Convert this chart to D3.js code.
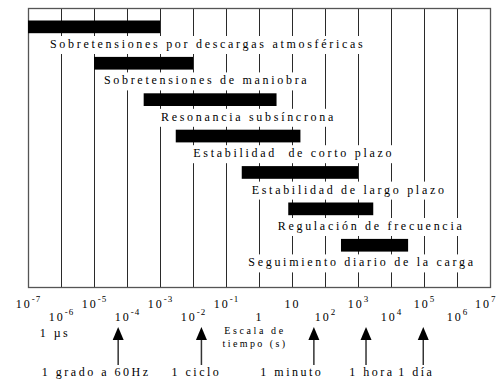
<!DOCTYPE html>
<html><head><meta charset="utf-8">
<script src="https://cdn.jsdelivr.net/npm/d3@7"></script>
<style>
body{margin:0;background:#fff}
svg{display:block;font-family:"Liberation Serif","Times New Roman",Times,serif}
svg text{font-family:"Liberation Serif","Times New Roman",Times,serif;fill:#000}
</style></head><body>
<svg id="c" width="497" height="379"></svg>
<script>
// ---- data ----
const categories = [
  "Sobretensiones por descargas atmosféricas",
  "Sobretensiones de maniobra",
  "Resonancia subsíncrona",
  "Estabilidad  de corto plazo",
  "Estabilidad de largo plazo",
  "Regulación de frecuencia",
  "Seguimiento diario de la carga"
];
const rangeStart = [1e-7, 1e-5, 3.2e-4, 3e-3, 0.3, 7.7, 305];   // s
const rangeEnd   = [1e-3, 1e-2, 3.4, 18, 1000, 2900, 33000];    // s
const tickValues = [1e-7,1e-6,1e-5,1e-4,1e-3,1e-2,1e-1,1,10,1e2,1e3,1e4,1e5,1e6,1e7];
const tickBase   = ["10","10","10","10","10","10","10","1","10","10","10","10","10","10","10"];
const tickExp    = ["-7","-6","-5","-4","-3","-2","-1","","","2","3","4","5","6","7"];
const markerTimes  = [5.4e-5, 0.018, 46, 1750, 95000];
const markerLabels = ["1 grado a 60Hz","1 ciclo","1 minuto","1 hora","1 día"];

// ---- layout (not data) ----
const labelStartExp = [-6.333, -4.70, -2.97, -1.99, -0.221, 0.567, -0.324];
const markerLabelDx = [-22, -5, -22, 6, -7];
const plot = {left:28, right:490, top:8, bottom:287};
const W = 497;

const svg = d3.select("#c");
const x = d3.scaleLog().domain([1e-7,1e7]).range([plot.left, plot.right]);
const y = d3.scaleBand().domain(categories).range([plot.top, plot.top + 7*36.4]);

// gridlines
const grid = svg.append("g").attr("transform",`translate(0,${plot.bottom})`)
  .call(d3.axisBottom(x).tickValues(tickValues).tickSize(-(plot.bottom-plot.top)).tickFormat(""));
grid.select(".domain").remove();
grid.selectAll("line").attr("stroke","#2a2a2a").attr("stroke-width",1);

// frame
svg.append("rect").attr("x",plot.left+0.5).attr("y",plot.top+0.5)
  .attr("width",plot.right-plot.left).attr("height",plot.bottom-plot.top)
  .attr("fill","none").attr("stroke","#555").attr("stroke-width",1.3);

// labels with white backgrounds
const lg = svg.append("g");
categories.forEach((c,i)=>{
  const g = lg.append("g");
  const t = g.append("text")
    .attr("x", x(Math.pow(10,labelStartExp[i])))
    .attr("y", y(c)+40)
    .attr("font-size",12)
    .attr("letter-spacing","2.7px")
    .style("white-space","pre")
    .attr("xml:space","preserve")
    .text(c);
  const bb = t.node().getBBox();
  g.insert("rect","text").attr("x",bb.x-2).attr("y",y(c)+40-12)
    .attr("width",bb.width+2).attr("height",18).attr("fill","#fff");
});

// bars
svg.append("g").selectAll("rect").data(categories).join("rect")
  .attr("x",(d,i)=>x(rangeStart[i]))
  .attr("width",(d,i)=>x(rangeEnd[i])-x(rangeStart[i]))
  .attr("y",d=>y(d)+12.5)
  .attr("height",12.7)
  .attr("fill","#000");

// tick labels
const ax = svg.append("g").attr("transform",`translate(0,${plot.bottom})`)
  .call(d3.axisBottom(x).tickValues(tickValues).tickSize(0).tickFormat(""));
ax.select(".domain").remove();
ax.attr("font-family",null).attr("font-size",null);
ax.selectAll(".tick text").each(function(d,i){
  const t = d3.select(this);
  const e = Math.round(Math.log10(d));
  const row = (e % 2 === 0) ? 1 : 0;
  t.attr("y", row ? 321-plot.bottom : 308-plot.bottom).attr("dy",null)
   .attr("font-size",12).attr("letter-spacing","2px")
   .attr("text-anchor","middle");
  t.text(null);
  t.append("tspan").text(tickBase[i]);
  if (tickExp[i]) {
    t.append("tspan").attr("dy",-6).attr("font-size",9).attr("letter-spacing","1px").text(tickExp[i]);
  }
  // keep the last label inside the picture
  const bb = this.getBBox();
  const right = x(d) + bb.x + bb.width;
  if (right > W - 1) t.attr("x", (W - 1) - right);
});

// extra axis annotations
svg.append("text").attr("x",x(1e-6)-6).attr("y",337).attr("text-anchor","middle")
  .attr("font-size",12).attr("letter-spacing","2.5px").text("1 µs");
svg.append("text").attr("x",x(1)-4).attr("y",334).attr("text-anchor","middle")
  .attr("font-size",10).attr("letter-spacing","2.6px").text("Escala de");
svg.append("text").attr("x",x(1)-4).attr("y",347).attr("text-anchor","middle")
  .attr("font-size",10).attr("letter-spacing","2.4px").text("tiempo (s)");

// markers
const mg = svg.append("g").selectAll("g").data(markerTimes).join("g");
mg.append("line").attr("x1",d=>x(d)).attr("x2",d=>x(d)).attr("y1",338).attr("y2",365)
  .attr("stroke","#333").attr("stroke-width",1.5);
mg.append("path").attr("d",d=>`M${x(d)},327L${x(d)-5.5},340L${x(d)+5.5},340Z`).attr("fill","#000");
mg.append("text").attr("x",(d,i)=>x(d)+markerLabelDx[i]).attr("y",376)
  .attr("text-anchor","middle").attr("font-size",12).attr("letter-spacing","2.5px")
  .text((d,i)=>markerLabels[i]);
</script>
</body></html>
